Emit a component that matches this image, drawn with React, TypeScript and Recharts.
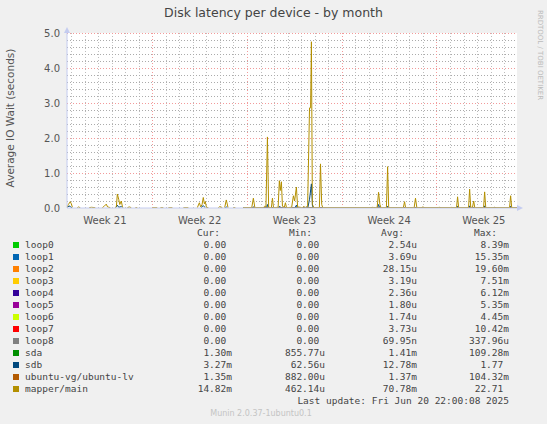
import React from 'react';
import { LineChart, Line, XAxis, YAxis, ReferenceLine, ReferenceArea, ReferenceDot } from 'recharts';

// x values are days since Sun 18 May 2025 00:00
const xStart = 0.7;
const xEnd = 33.95;

const weekCenters = [3.5, 10.5, 17.5, 24.5, 31.5];
const weekLabels = ['Week 21', 'Week 22', 'Week 23', 'Week 24', 'Week 25'];
const weekBounds = [7, 14, 21, 28];
const yTicks = [0, 1, 2, 3, 4, 5];

// [day, seconds]; null breaks the line (no data)
const mapperMain: [number, number | null][] = [
    [0.72, 0.03], [0.8, 0.1], [0.94, 0.18], [1.02, 0.12], [1.1, 0.02], [1.3, null],
    [1.46, 0.01], [1.53, 0.03], [1.68, 0.01], [2.0, null],
    [2.34, 0.01], [2.5, 0.02], [2.79, 0.01], [3.0, null],
    [3.31, 0.01], [3.45, 0.05], [3.6, 0.11], [3.7, 0.03], [3.9, 0.01], [4.1, null],
    [4.27, 0.01], [4.35, 0.05], [4.42, 0.4], [4.52, 0.25], [4.6, 0.1], [4.71, 0.2], [4.8, 0.03], [4.86, 0.01], [5.0, null],
    [5.16, 0.01], [5.3, 0.03], [5.45, 0.01], [5.6, null],
    [5.75, 0.01], [5.89, 0.01], [6.5, null],
    [7.0, 0.01], [7.37, 0.01], [7.5, null],
    [7.6, 0.01], [7.82, 0.01], [8.0, null],
    [8.19, 0.01], [8.49, 0.01], [9.0, null],
    [9.3, 0.01], [9.67, 0.01], [10.0, null],
    [10.33, 0.01], [10.48, 0.15], [10.58, 0.03], [10.68, 0.1], [10.77, 0.3], [10.85, 0.12], [10.92, 0.18], [11.0, 0.02], [11.15, 0.01], [11.5, null],
    [11.88, 0.01], [12.0, 0.04], [12.18, 0.01], [12.3, null],
    [12.35, 0.01], [12.47, 0.23], [12.6, 0.01], [12.8, null],
    [13.0, 0.01], [13.14, 0.01], [13.4, null],
    [13.73, 0.01], [14.35, 0.01], [14.47, 0.28], [14.58, 0.01],
    [15.2, 0.01], [15.3, 0.05], [15.4, 0.03], [15.51, 2.03], [15.6, 0.02], [15.8, 0.01], [15.88, 0.28], [15.96, 0.01],
    [16.3, 0.02], [16.39, 0.78], [16.46, 0.5], [16.54, 0.75], [16.62, 0.05], [16.76, 0.02], [16.84, 0.15], [16.92, 0.01],
    [17.3, 0.02], [17.43, 0.35], [17.52, 0.2], [17.65, 0.6], [17.74, 0.03],
    [18.1, 0.01], [18.2, 0.05], [18.3, 0.01], [18.48, 0.05], [18.62, 2.86], [18.7, 2.86], [18.76, 4.75], [18.83, 0.1], [18.95, 0.01],
    [19.35, 0.01], [19.43, 1.26], [19.52, 0.1], [19.6, 0.01],
    [23.2, 0.01], [23.3, 0.02], [23.4, 0.01], [23.62, 0.02], [23.72, 0.45], [23.82, 0.1], [23.9, 0.01],
    [24.3, 0.01], [24.39, 1.18], [24.47, 0.01],
    [25.55, 0.01], [25.64, 0.18], [25.72, 0.01],
    [26.35, 0.01], [26.45, 0.28], [26.55, 0.01], [26.9, 0.01], [27.0, 0.03], [27.1, 0.01],
    [28.1, 0.01], [28.2, 0.02], [28.3, 0.01], [29.0, 0.01], [29.08, 0.02], [29.16, 0.01],
    [29.48, 0.01], [29.56, 0.32], [29.64, 0.01],
    [30.37, 0.01], [30.45, 0.54], [30.53, 0.02], [30.66, 0.02], [30.75, 0.2], [30.83, 0.01],
    [31.48, 0.01], [31.56, 0.46], [31.64, 0.01], [32.2, 0.01], [32.28, 0.02], [32.36, 0.01],
    [33.4, 0.01], [33.48, 0.35], [33.56, 0.01], [33.95, 0.01],
];

const sdb: [number, number | null][] = [
    [0.72, 0.01], [0.85, 0.06], [0.94, 0.04], [1.05, 0.01], [1.3, null],
    [4.3, 0.01], [4.42, 0.08], [4.52, 0.02], [4.71, 0.04], [4.8, 0.01], [5.0, null],
    [10.6, 0.01], [10.77, 0.07], [10.9, 0.01], [11.2, null],
    [12.4, 0.01], [12.47, 0.03], [12.55, 0.01], [12.8, null],
    [13.73, 0.005], [14.4, 0.005], [14.47, 0.03], [14.55, 0.005],
    [15.45, 0.01], [15.51, 0.1], [15.58, 0.005], [16.35, 0.01], [16.42, 0.05], [16.5, 0.005],
    [17.55, 0.01], [17.65, 0.08], [17.72, 0.005],
    [18.5, 0.02], [18.62, 0.25], [18.76, 0.69], [18.84, 0.05], [18.95, 0.005],
    [23.65, 0.01], [23.72, 0.1], [23.8, 0.005], [24.35, 0.01], [24.39, 0.05], [24.45, 0.005],
    [29.5, 0.005], [29.56, 0.05], [29.62, 0.005], [30.4, 0.005], [30.45, 0.06], [30.5, 0.005],
    [31.5, 0.005], [31.56, 0.06], [31.62, 0.005], [33.42, 0.005], [33.48, 0.05], [33.54, 0.005], [33.95, 0.005],
];

const sda: [number, number | null][] = [[13.73, 0.0013], [33.95, 0.0013]];
const ubuntuLv: [number, number | null][] = [[13.73, 0.0014], [33.95, 0.0014]];
const loopIdle: [number, number | null][] = [[13.73, 0], [33.95, 0]];

const seriesNames = ['loop0', 'loop1', 'loop2', 'loop3', 'loop4', 'loop5', 'loop6', 'loop7', 'loop8', 'sda', 'sdb', 'ubuntu-vg/ubuntu-lv', 'mapper/main'];
const seriesColors = ['#00CC00', '#0066B3', '#FF8000', '#FFCC00', '#330099', '#990099', '#CCFF00', '#FF0000', '#808080', '#008F00', '#00487D', '#B35A00', '#B38F00'];
const seriesData = [loopIdle, loopIdle, loopIdle, loopIdle, loopIdle, loopIdle, loopIdle, loopIdle, loopIdle, sda, sdb, ubuntuLv, mapperMain];
const curValues = ['0.00 ', '0.00 ', '0.00 ', '0.00 ', '0.00 ', '0.00 ', '0.00 ', '0.00 ', '0.00 ', '1.30m', '3.27m', '1.35m', '14.82m'];
const minValues = ['0.00 ', '0.00 ', '0.00 ', '0.00 ', '0.00 ', '0.00 ', '0.00 ', '0.00 ', '0.00 ', '855.77u', '62.56u', '882.00u', '462.14u'];
const avgValues = ['2.54u', '3.69u', '28.15u', '3.19u', '2.36u', '1.80u', '1.74u', '3.73u', '69.95n', '1.41m', '12.78m', '1.37m', '70.78m'];
const maxValues = ['8.39m', '15.35m', '19.60m', '7.51m', '6.12m', '5.35m', '4.45m', '10.42m', '337.96u', '109.28m', '1.77 ', '104.32m', '22.71 '];

const toRows = (pts: [number, number | null][]) => pts.map(([d, v]) => ({ d, v }));

const minorY = [0.2, 0.4, 0.6, 0.8, 1.2, 1.4, 1.6, 1.8, 2.2, 2.4, 2.6, 2.8, 3.2, 3.4, 3.6, 3.8, 4.2, 4.4, 4.6, 4.8];
const minorX: number[] = [];
for (let d = 1; d <= 33; d++) if (d % 7 !== 0) minorX.push(d);

const MONO = '"DejaVu Sans Mono", monospace';
const SANS = '"DejaVu Sans", sans-serif';
const AXIS = '#C4CCF0';
const MINOR = '#BDBDBD';
const MINOR_H = '#ABABAB';
const MAJOR = '#F29A9A';

// snap grid lines to the pixel grid so the 1px dots stay sharp
const gridLine = (color: string) => (p: any) => {
    const snap = (v: number) => Math.round(v) + 0.5;
    const horizontal = Math.abs(p.y1 - p.y2) < 0.01;
    const x1 = horizontal ? p.x1 : snap(p.x1);
    const x2 = horizontal ? p.x2 : snap(p.x2);
    const y1 = horizontal ? snap(p.y1) : p.y1;
    const y2 = horizontal ? snap(p.y2) : p.y2;
    return <line x1={x1} y1={y1} x2={x2} y2={y2} stroke={color} strokeWidth={1} strokeDasharray="1 2" />;
};

const upArrow = (p: any) => (
    <polygon points={`${p.cx - 3},${p.cy} ${p.cx + 3},${p.cy} ${p.cx},${p.cy - 6}`} fill={AXIS} />
);
const rightArrow = (p: any) => (
    <polygon points={`${p.cx},${p.cy - 3} ${p.cx},${p.cy + 3} ${p.cx + 6},${p.cy}`} fill={AXIS} />
);

const cell = (text: string, right: number, top: number, key: string) => (
    <div key={key} style={{ position: 'absolute', right: 547 - right, top, whiteSpace: 'pre' }}>{text}</div>
);

const App: React.FC = () => {
    return (
        <div style={{ position: 'fixed', left: 0, top: 0, width: 547, height: 424, background: '#F0F0F0', overflow: 'hidden' }}>
            <div style={{ position: 'absolute', left: 0, width: 547, top: 5, textAlign: 'center', fontFamily: SANS, fontSize: 12.5, color: '#444' }}>
                Disk latency per device - by month
            </div>
            <div style={{ position: 'absolute', left: 10 - 100, top: 120 - 8, width: 200, textAlign: 'center', transform: 'rotate(-90deg)', fontFamily: SANS, fontSize: 10.5, color: '#555' }}>
                Average IO Wait (seconds)
            </div>
            <div style={{ position: 'absolute', left: 540 - 60, top: 56 - 5, width: 120, textAlign: 'center', transform: 'rotate(90deg)', fontFamily: SANS, fontSize: 7, color: '#BBB' }}>
                RRDTOOL / TOBI OETIKER
            </div>

            <LineChart width={547} height={230} margin={{ top: 33, right: 30, bottom: 2, left: 0 }} style={{ position: 'absolute', left: 0, top: 0 }}>
                <XAxis
                    type="number"
                    dataKey="d"
                    domain={[xStart, xEnd]}
                    allowDataOverflow
                    ticks={weekCenters}
                    tickFormatter={(v: number) => weekLabels[weekCenters.indexOf(v)] ?? ''}
                    tickLine={false}
                    axisLine={{ stroke: AXIS }}
                    tickMargin={3}
                    height={20}
                    tick={{ fontFamily: SANS, fontSize: 10, fill: '#555' }}
                />
                <YAxis
                    type="number"
                    domain={[0, 5]}
                    ticks={yTicks}
                    allowDataOverflow
                    width={67}
                    tickLine={false}
                    axisLine={{ stroke: AXIS }}
                    tickMargin={1}
                    tickFormatter={(v: number) => v.toFixed(1)}
                    tick={{ fontFamily: SANS, fontSize: 10, fill: '#555' }}
                />
                <ReferenceArea x1={xStart} x2={xEnd} y1={0} y2={5} fill="#FFFFFF" fillOpacity={1} stroke="none" />
                {minorX.map((x) => (
                    <ReferenceLine key={'mx' + x} x={x} shape={gridLine(MINOR)} />
                ))}
                {minorY.map((y) => (
                    <ReferenceLine key={'my' + y} y={y} shape={gridLine(MINOR_H)} />
                ))}
                {yTicks.slice(1).map((y) => (
                    <ReferenceLine key={'My' + y} y={y} shape={gridLine(MAJOR)} />
                ))}
                {weekBounds.map((x) => (
                    <ReferenceLine key={'Mx' + x} x={x} shape={gridLine(MAJOR)} />
                ))}
                {seriesNames.map((name, i) => (
                    <Line
                        key={name}
                        name={name}
                        data={toRows(seriesData[i])}
                        dataKey="v"
                        type="linear"
                        stroke={seriesColors[i]}
                        strokeWidth={1}
                        dot={false}
                        activeDot={false}
                        connectNulls={false}
                        isAnimationActive={false}
                    />
                ))}
                <ReferenceDot x={xStart} y={5} r={0} ifOverflow="visible" shape={upArrow} />
                <ReferenceDot x={xEnd} y={0} r={0} ifOverflow="visible" shape={rightArrow} />
            </LineChart>

            <div style={{ position: 'absolute', left: 0, top: 0, width: 547, height: 424, fontFamily: MONO, fontSize: 9.5, color: '#444', lineHeight: '12px' }}>
                {cell('Cur:', 220, 227, 'hc')}
                {cell('Min:', 312, 227, 'hm')}
                {cell('Avg:', 404, 227, 'ha')}
                {cell('Max:', 497, 227, 'hx')}
                {seriesNames.map((name, i) => {
                    const top = 239 + i * 12;
                    return (
                        <React.Fragment key={name}>
                            <div style={{ position: 'absolute', left: 13, top: top + 3, width: 6, height: 6, background: seriesColors[i] }} />
                            <div style={{ position: 'absolute', left: 25, top, whiteSpace: 'pre' }}>{name}</div>
                            {cell(curValues[i], 232, top, 'c' + i)}
                            {cell(minValues[i], 325, top, 'm' + i)}
                            {cell(avgValues[i], 417, top, 'a' + i)}
                            {cell(maxValues[i], 509, top, 'x' + i)}
                        </React.Fragment>
                    );
                })}
                {cell('Last update: Fri Jun 20 22:00:08 2025', 509, 395, 'lu')}
                <div style={{ position: 'absolute', left: 0, width: 522, top: 408, textAlign: 'center', fontFamily: SANS, fontSize: 8, color: '#C4C4C4' }}>
                    Munin 2.0.37-1ubuntu0.1
                </div>
            </div>
        </div>
    );
};

export default App;
